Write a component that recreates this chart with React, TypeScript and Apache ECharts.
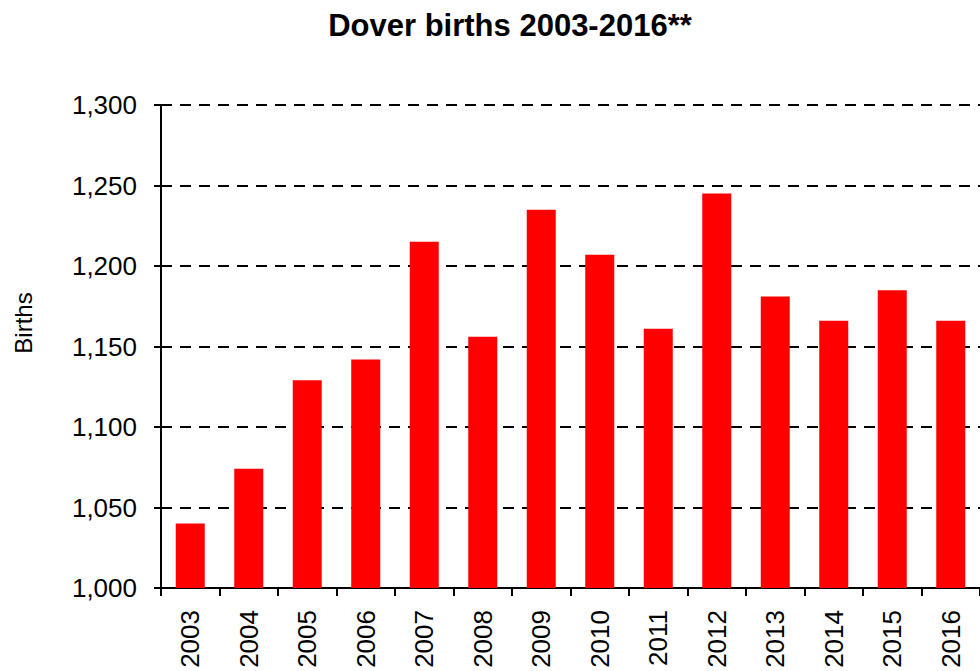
import React, { useEffect, useRef } from "react";
import * as echarts from "echarts";

const years = ["2003", "2004", "2005", "2006", "2007", "2008", "2009", "2010", "2011", "2012", "2013", "2014", "2015", "2016"];
const births = [1040, 1074, 1129, 1142, 1215, 1156, 1235, 1207, 1161, 1245, 1181, 1166, 1185, 1166];
const yMin = 1000;
const yMax = 1300;
const yStep = 50;
const titleText = "Dover births 2003-2016**";
const yAxisTitle = "Births";

export default function App() {
  const ref = useRef<HTMLDivElement>(null);
  useEffect(() => {
    if (!ref.current) return;
    const chart = echarts.init(ref.current, null, { renderer: "svg" });
    const font = "'Liberation Sans', Arial, sans-serif";
    chart.setOption({
      animation: false,
      backgroundColor: "#ffffff",
      title: {
        text: titleText,
        left: 505,
        top: 5,
        textAlign: "center",
        textStyle: { fontFamily: font, fontSize: 31, fontWeight: "bold", color: "#000" },
      },
      graphic: [
        {
          type: "text",
          x: 23,
          y: 323,
          rotation: Math.PI / 2,
          style: {
            text: yAxisTitle,
            fontFamily: font,
            fontSize: 24,
            fill: "#000",
            textAlign: "center",
            textVerticalAlign: "middle",
          },
        },
      ],
      grid: { left: 161, top: 105, bottom: 83, right: -3, containLabel: false },
      xAxis: {
        type: "category",
        data: years,
        boundaryGap: true,
        axisLine: { show: true, lineStyle: { color: "#000", width: 2 } },
        axisTick: { show: true, length: 8, lineStyle: { color: "#000", width: 2 } },
        axisLabel: {
          rotate: 90,
          margin: 22,
          fontFamily: font,
          fontSize: 26,
          color: "#000",
          interval: 0,
        },
        splitLine: { show: false },
      },
      yAxis: {
        type: "value",
        min: yMin,
        max: yMax,
        interval: yStep,
        axisLine: { show: true, lineStyle: { color: "#000", width: 2 } },
        axisTick: { show: true, length: 7, lineStyle: { color: "#000", width: 2 } },
        axisLabel: {
          margin: 24,
          fontFamily: font,
          fontSize: 26,
          color: "#000",
          formatter: (v: number) => v.toLocaleString("en-US"),
        },
        splitLine: {
          show: true,
          lineStyle: { color: "#000", width: 2, type: [11, 8] },
        },
      },
      series: [
        {
          type: "bar",
          data: births,
          barWidth: 29,
          itemStyle: { color: "#ff0000" },
        },
      ],
    });
    return () => chart.dispose();
  }, []);
  return (
    <div
      ref={ref}
      style={{ position: "fixed", left: 0, top: 0, width: 980, height: 671 }}
    />
  );
}
